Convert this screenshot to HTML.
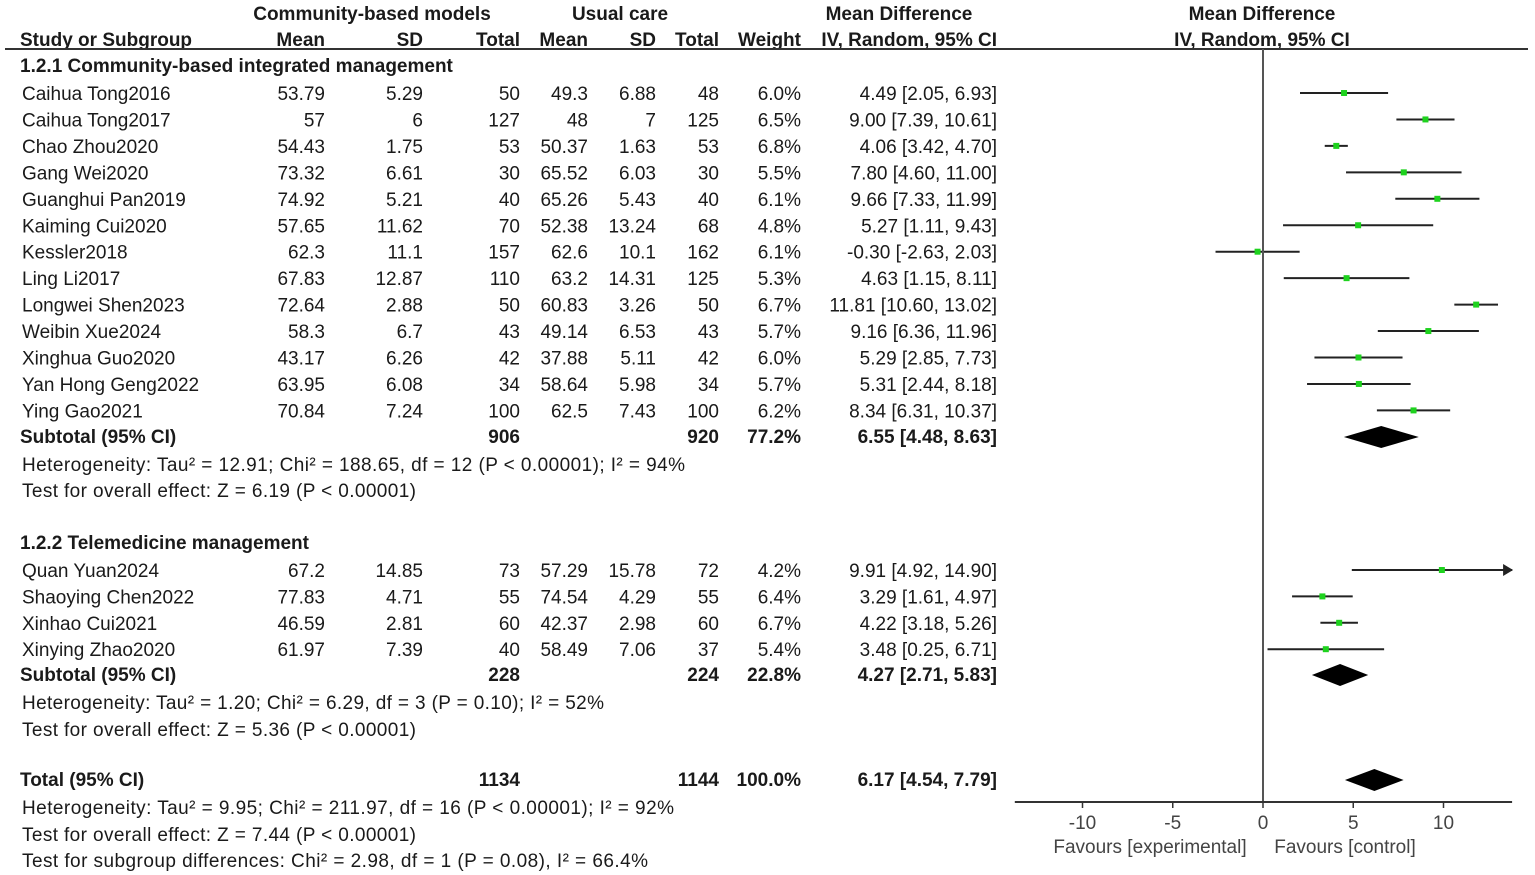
<!DOCTYPE html>
<html><head><meta charset="utf-8">
<style>
body{margin:0;background:#fff;}
svg{display:block;font-family:"Liberation Sans",Arial,sans-serif;font-size:19px;fill:#1a1a1a;}
.b{font-weight:bold;}
</style></head>
<body>
<svg id="c" width="1535" height="875" xmlns="http://www.w3.org/2000/svg">
<g>
<text x="372" y="20" text-anchor="middle" class="b">Community-based models</text>
<text x="620" y="20" text-anchor="middle" class="b">Usual care</text>
<text x="899" y="20" text-anchor="middle" class="b">Mean Difference</text>
<text x="1262" y="20" text-anchor="middle" class="b">Mean Difference</text>
<text x="20" y="46" class="b">Study or Subgroup</text>
<text x="325" y="46" text-anchor="end" class="b">Mean</text>
<text x="423" y="46" text-anchor="end" class="b">SD</text>
<text x="520" y="46" text-anchor="end" class="b">Total</text>
<text x="588" y="46" text-anchor="end" class="b">Mean</text>
<text x="656" y="46" text-anchor="end" class="b">SD</text>
<text x="719" y="46" text-anchor="end" class="b">Total</text>
<text x="801" y="46" text-anchor="end" class="b">Weight</text>
<text x="997" y="46" text-anchor="end" class="b">IV, Random, 95% CI</text>
<text x="1262" y="46" text-anchor="middle" class="b">IV, Random, 95% CI</text>
</g>
<line x1="5" y1="49" x2="1528" y2="49" stroke="#333" stroke-width="2"/>
<g id="rows"></g>
<g id="plot"></g>
</svg>
<script>
const studies1=["Caihua Tong2016","Caihua Tong2017","Chao Zhou2020","Gang Wei2020","Guanghui Pan2019","Kaiming Cui2020","Kessler2018","Ling Li2017","Longwei Shen2023","Weibin Xue2024","Xinghua Guo2020","Yan Hong Geng2022","Ying Gao2021"];
const studies2=["Quan Yuan2024","Shaoying Chen2022","Xinhao Cui2021","Xinying Zhao2020"];
const eMean=["53.79","57","54.43","73.32","74.92","57.65","62.3","67.83","72.64","58.3","43.17","63.95","70.84","67.2","77.83","46.59","61.97"];
const eSD=["5.29","6","1.75","6.61","5.21","11.62","11.1","12.87","2.88","6.7","6.26","6.08","7.24","14.85","4.71","2.81","7.39"];
const eN=["50","127","53","30","40","70","157","110","50","43","42","34","100","73","55","60","40"];
const cMean=["49.3","48","50.37","65.52","65.26","52.38","62.6","63.2","60.83","49.14","37.88","58.64","62.5","57.29","74.54","42.37","58.49"];
const cSD=["6.88","7","1.63","6.03","5.43","13.24","10.1","14.31","3.26","6.53","5.11","5.98","7.43","15.78","4.29","2.98","7.06"];
const cN=["48","125","53","30","40","68","162","125","50","43","42","34","100","72","55","60","37"];
const weights=["6.0%","6.5%","6.8%","5.5%","6.1%","4.8%","6.1%","5.3%","6.7%","5.7%","6.0%","5.7%","6.2%","4.2%","6.4%","6.7%","5.4%"];
const md=[4.49,9.00,4.06,7.80,9.66,5.27,-0.30,4.63,11.81,9.16,5.29,5.31,8.34,9.91,3.29,4.22,3.48];
const lo=[2.05,7.39,3.42,4.60,7.33,1.11,-2.63,1.15,10.60,6.36,2.85,2.44,6.31,4.92,1.61,3.18,0.25];
const hi=[6.93,10.61,4.70,11.00,11.99,9.43,2.03,8.11,13.02,11.96,7.73,8.18,10.37,14.90,4.97,5.26,6.71];
const pooledNames=["Subtotal (95% CI)","Subtotal (95% CI)","Total (95% CI)"];
const pooledEN=["906","228","1134"];
const pooledCN=["920","224","1144"];
const pooledW=["77.2%","22.8%","100.0%"];
const pooledMD=[6.55,4.27,6.17];
const pooledLo=[4.48,2.71,4.54];
const pooledHi=[8.63,5.83,7.79];
const ticks=[-10,-5,0,5,10];
const NS="http://www.w3.org/2000/svg";
const X0=1263,SC=18.05,AXMIN=-13.75,AXMAX=13.8;
const xs=v=>X0+v*SC;
const rows=document.getElementById('rows'),plot=document.getElementById('plot');
function el(p,tag,at,txt){const e=document.createElementNS(NS,tag);for(const k in at)e.setAttribute(k,at[k]);if(txt!==undefined)e.textContent=txt;p.appendChild(e);return e;}
function txt(p,x,y,s,anchor,bold,name,len){const t=el(p,'text',{x:x,y:y,'text-anchor':anchor||'start'},s);if(bold)t.setAttribute('class','b');
if(len){t.setAttribute('textLength',len);t.setAttribute('lengthAdjust','spacing');}

return t;}
const f2=v=>v.toFixed(2);
function studyRow(i,name,y){
 const g=el(rows,'g',{});
 
 
 txt(g,22,y,name,'start',false,'study-name');
 txt(g,325,y,eMean[i],'end',false,'exp-mean');
 txt(g,423,y,eSD[i],'end',false,'exp-sd');
 txt(g,520,y,eN[i],'end',false,'exp-total');
 txt(g,588,y,cMean[i],'end',false,'ctrl-mean');
 txt(g,656,y,cSD[i],'end',false,'ctrl-sd');
 txt(g,719,y,cN[i],'end',false,'ctrl-total');
 txt(g,801,y,weights[i],'end',false,'weight');
 txt(g,997,y,f2(md[i])+" ["+f2(lo[i])+", "+f2(hi[i])+"]",'end',false,'effect-ci');
 const cy=y-7;
 const l=Math.max(lo[i],AXMIN),h=Math.min(hi[i],AXMAX);
 const ln=el(plot,'line',{x1:xs(l),x2:xs(h),y1:cy,y2:cy,stroke:'#222','stroke-width':2});
 
 
 if(hi[i]>AXMAX){const a=el(plot,'polygon',{points:(xs(h)+1)+","+cy+" "+(xs(h)-9)+","+(cy-6)+" "+(xs(h)-9)+","+(cy+6),fill:'#222'});
 
 }
 const m=el(plot,'rect',{x:xs(md[i])-3,y:cy-3,width:6,height:6,fill:'#1ed21e'});
 
 
}
function pooledRow(k,y){
 txt(rows,20,y,pooledNames[k],'start',true,'pooled-label');
 txt(rows,520,y,pooledEN[k],'end',true,'pooled-exp-total');
 txt(rows,719,y,pooledCN[k],'end',true,'pooled-ctrl-total');
 txt(rows,801,y,pooledW[k],'end',true,'pooled-weight');
 txt(rows,997,y,f2(pooledMD[k])+" ["+f2(pooledLo[k])+", "+f2(pooledHi[k])+"]",'end',true,'pooled-ci');
 const cy=y-6;
 const d=el(plot,'polygon',{points:xs(pooledLo[k])+","+cy+" "+xs(pooledMD[k])+","+(cy-11)+" "+xs(pooledHi[k])+","+cy+" "+xs(pooledMD[k])+","+(cy+11),fill:'#000'});
 
 
}
txt(rows,20,72,"1.2.1 Community-based integrated management",'start',true,'subgroup-1-title');
studies1.forEach((n,i)=>studyRow(i,n,100+i*26.45));
pooledRow(0,443);
txt(rows,22,471,"Heterogeneity: Tau\u00b2 = 12.91; Chi\u00b2 = 188.65, df = 12 (P < 0.00001); I\u00b2 = 94%",'start',false,'heterogeneity-1',663);
txt(rows,22,497,"Test for overall effect: Z = 6.19 (P < 0.00001)",'start',false,'overall-effect-1',394);
txt(rows,20,549,"1.2.2 Telemedicine management",'start',true,'subgroup-2-title');
studies2.forEach((n,j)=>studyRow(13+j,n,577+j*26.4));
pooledRow(1,681);
txt(rows,22,709,"Heterogeneity: Tau\u00b2 = 1.20; Chi\u00b2 = 6.29, df = 3 (P = 0.10); I\u00b2 = 52%",'start',false,'heterogeneity-2',582);
txt(rows,22,736,"Test for overall effect: Z = 5.36 (P < 0.00001)",'start',false,'overall-effect-2',394);
pooledRow(2,786);
txt(rows,22,814,"Heterogeneity: Tau\u00b2 = 9.95; Chi\u00b2 = 211.97, df = 16 (P < 0.00001); I\u00b2 = 92%",'start',false,'heterogeneity-total',652);
txt(rows,22,841,"Test for overall effect: Z = 7.44 (P < 0.00001)",'start',false,'overall-effect-total',394);
txt(rows,22,867,"Test for subgroup differences: Chi\u00b2 = 2.98, df = 1 (P = 0.08), I\u00b2 = 66.4%",'start',false,'subgroup-differences',626);
const vl=el(plot,'line',{x1:X0,x2:X0,y1:49,y2:802,stroke:'#555','stroke-width':2});


const ax=el(plot,'line',{x1:xs(AXMIN),x2:xs(AXMAX),y1:802,y2:802,stroke:'#333','stroke-width':2});


ticks.forEach(t=>{
 const tk=el(plot,'line',{x1:xs(t),x2:xs(t),y1:802,y2:808,stroke:'#333','stroke-width':1.5});
 
 
 txt(plot,xs(t),829,String(t),'middle',false,'x-tick-label');
});
txt(plot,1150,853,"Favours [experimental]",'middle',false,'favours-experimental');
txt(plot,1345,853,"Favours [control]",'middle',false,'favours-control');
plot.querySelectorAll('text').forEach(t=>t.setAttribute('fill','#444'));
</script>
</body></html>
